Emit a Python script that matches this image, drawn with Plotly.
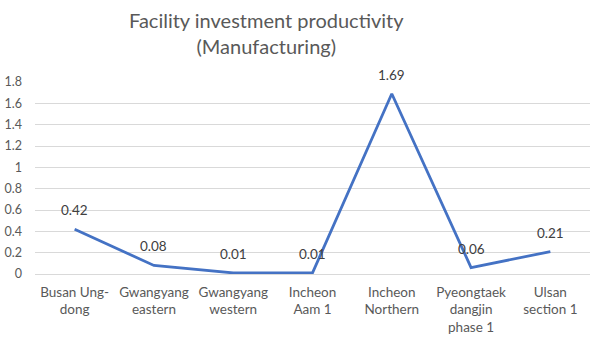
import plotly.graph_objects as go

categories = [
    "Busan Ung-<br>dong",
    "Gwangyang<br>eastern",
    "Gwangyang<br>western",
    "Incheon<br>Aam 1",
    "Incheon<br>Northern",
    "Pyeongtaek<br>dangjin<br>phase 1",
    "Ulsan<br>section 1",
]
values = [0.42, 0.08, 0.01, 0.01, 1.69, 0.06, 0.21]
y_ticks = [0, 0.2, 0.4, 0.6, 0.8, 1, 1.2, 1.4, 1.6, 1.8]

FONT = "Lato, 'Open Sans', sans-serif"
x = list(range(len(categories)))

fig = go.Figure()
fig.add_trace(go.Scatter(
    x=x, y=values, mode="lines",
    line=dict(color="#4472C4", width=2.8),
    hoverinfo="skip",
))

for xi, v in zip(x, values):
    fig.add_annotation(
        x=xi, y=v, text=f"{v:.2f}", showarrow=False,
        yshift=19, font=dict(family=FONT, size=13.5, color="#404040"),
    )

# Chart title, two lines, centred above the plot
fig.add_annotation(
    xref="paper", yref="paper", x=(266 - 35) / 555, y=1 + 49 / 192,
    xanchor="center", yanchor="middle", showarrow=False,
    text="Facility investment productivity<br>(Manufacturing)",
    font=dict(family=FONT, size=20, color="#595959"),
)

fig.update_layout(
    width=590, height=340,
    margin=dict(l=35, r=0, t=82, b=66),
    paper_bgcolor="white", plot_bgcolor="white",
    showlegend=False,
    font=dict(family=FONT, size=13, color="#595959"),
)
fig.update_xaxes(
    range=[-0.5, len(categories) - 0.5],
    tickmode="array", tickvals=x, ticktext=categories,
    showgrid=False, zeroline=False, showline=False,
    ticks="", ticklabelstandoff=8,
    tickfont=dict(size=13.5, color="#595959"),
    fixedrange=True,
)
fig.update_yaxes(
    range=[0, 1.8],
    tickmode="array", tickvals=y_ticks,
    ticktext=[f"{t:g}" for t in y_ticks],
    showgrid=True, gridcolor="#d9d9d9", gridwidth=1,
    zeroline=True, zerolinecolor="#d9d9d9", zerolinewidth=1,
    showline=False, ticks="", ticklabelstandoff=12,
    tickfont=dict(size=12.5, color="#595959"),
    fixedrange=True,
)

fig.write_html("out.html")
